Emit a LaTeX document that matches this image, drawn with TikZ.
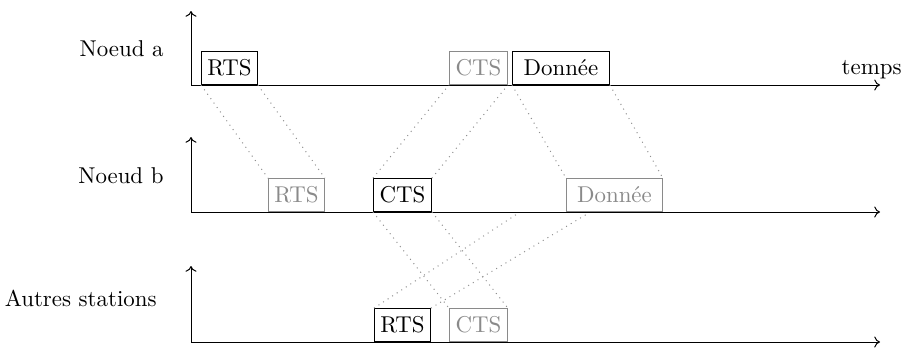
\documentclass[tikz,border=0pt]{standalone}
\usetikzlibrary{arrows.meta}
\definecolor{lightgr}{HTML}{8A8A8A}
\definecolor{dotgr}{HTML}{8F8F8F}
\begin{document}
\begin{tikzpicture}[x=0.45pt,y=-0.45pt,
  pkt/.style={draw=black,text=black,inner sep=0pt,minimum height=33*0.45pt,anchor=south west,font=\fontsize{10.3}{12}\selectfont},
  pktg/.style={pkt,draw=lightgr,text=lightgr},
  lbl/.style={inner sep=0pt,anchor=east,font=\fontsize{10.3}{12}\selectfont},
  link/.style={dotgr,dotted,line width=0.45pt},
  axis/.style={line width=0.45pt,{To[length=2.6pt,width=5pt]}-{To[length=2.6pt,width=5pt]}}]
\useasboundingbox (0,0) rectangle (903,347);
% axes
\coordinate (atop) at (191,11); \coordinate (ao) at (191,85); \coordinate (aend) at (880,85);
\coordinate (btop) at (191,137); \coordinate (bo) at (191,212); \coordinate (bend) at (880,212);
\coordinate (ctop) at (191,266); \coordinate (co) at (191,342); \coordinate (cend) at (880,342);
\draw[axis] (atop) -- (ao) -- (aend);
\draw[axis] (btop) -- (bo) -- (bend);
\draw[axis] (ctop) -- (co) -- (cend);
% labels
\node[lbl] (la) at (164,49) {Noeud a};
\node[lbl] (lb) at (164,176) {Noeud b};
\node[lbl] (lc) at (157,298) {Autres stations};
\node[inner sep=0pt,anchor=base east,font=\fontsize{10.3}{12}\selectfont] (tps) at (902,74) {temps};
% packets
\node[pkt, minimum width=56*0.45pt] (aRTS) at (201,85) {RTS};
\node[pktg,minimum width=58*0.45pt] (aCTS) at (449,85) {CTS};
\node[pkt, minimum width=97*0.45pt] (aDon) at (512,85) {Donnée};
\node[pktg,minimum width=56*0.45pt] (bRTS) at (268,212) {RTS};
\node[pkt, minimum width=58*0.45pt] (bCTS) at (373,212) {CTS};
\node[pktg,minimum width=96*0.45pt] (bDon) at (566,212) {Donnée};
\node[pkt, minimum width=56*0.45pt] (cRTS) at (374,342) {RTS};
\node[pktg,minimum width=58*0.45pt] (cCTS) at (449,342) {CTS};
\coordinate (bx1) at (517,214);
\coordinate (bx2) at (587,214);
% propagation links
\draw[link] (aRTS.south west) -- (bRTS.north west);
\draw[link] (aRTS.south east) -- (bRTS.north east);
\draw[link] (bCTS.north west) -- (aCTS.south west);
\draw[link] (bCTS.north east) -- (aCTS.south east);
\draw[link] (aDon.south west) -- (bDon.north west);
\draw[link] (aDon.south east) -- (bDon.north east);
\draw[link] (bCTS.south west) -- (cCTS.north west);
\draw[link] (bCTS.south east) -- (cCTS.north east);
\draw[link] (cRTS.north west) -- (bx1);
\draw[link] (cRTS.north east) -- (bx2);
\end{tikzpicture}
\end{document}
